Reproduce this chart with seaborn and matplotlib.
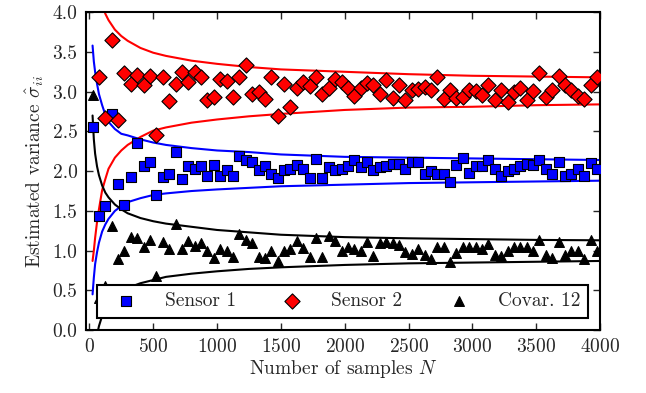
"""
plot.py
Estimated variances of two sensors and their covariance against the number
of samples, with confidence bounds.
"""

import matplotlib
matplotlib.use("Agg")

import matplotlib.pyplot as plt
import seaborn as sns

# sample sizes where the estimates were taken
N_SAMPLES = list(range(25, 4000, 50))

SENSOR_1 = [
    2.56, 1.44, 1.56, 2.72, 1.84, 1.58, 1.93, 2.36, 2.06, 2.11,
    1.70, 1.93, 1.97, 2.24, 1.90, 2.07, 2.03, 2.07, 1.94, 2.08,
    1.94, 2.01, 1.94, 2.19, 2.14, 2.11, 2.01, 2.07, 1.97, 1.92,
    2.01, 2.03, 2.08, 2.03, 1.92, 2.15, 1.92, 2.05, 2.01, 2.03,
    2.07, 2.14, 2.05, 2.12, 2.01, 2.05, 2.07, 2.09, 2.09, 2.03,
    2.12, 2.11, 1.96, 2.00, 1.97, 1.97, 1.86, 2.08, 2.17, 1.98,
    2.07, 2.06, 2.14, 2.03, 1.94, 2.00, 2.03, 2.07, 2.09, 2.08,
    2.14, 2.03, 1.97, 2.11, 1.94, 1.96, 2.03, 1.94, 2.10, 2.03,
]
SENSOR_2 = [
    4.30, 3.18, 2.67, 3.65, 2.64, 3.23, 3.10, 3.21, 3.09, 3.20,
    2.45, 3.18, 2.88, 3.10, 3.25, 3.12, 3.25, 3.19, 2.89, 2.93,
    3.16, 3.14, 2.93, 3.18, 3.33, 2.97, 3.00, 2.91, 3.18, 2.69,
    3.10, 2.81, 3.04, 3.12, 3.07, 3.18, 2.97, 3.05, 3.16, 3.12,
    3.04, 2.95, 3.04, 3.11, 3.08, 2.97, 3.15, 2.92, 3.08, 2.90,
    3.02, 3.03, 3.06, 3.02, 3.18, 2.91, 3.02, 2.92, 2.93, 3.02,
    3.01, 2.96, 3.09, 2.89, 3.02, 2.87, 2.99, 3.04, 2.90, 3.01,
    3.23, 2.93, 3.02, 3.20, 3.08, 3.02, 2.95, 2.91, 3.08, 3.18,
]
COVAR_12 = [
    2.96, 0.40, 0.55, 1.31, 0.89, 1.00, 1.17, 1.16, 1.04, 1.13,
    0.68, 1.11, 1.02, 1.34, 1.02, 1.12, 1.06, 1.09, 0.99, 0.91,
    1.02, 0.99, 0.92, 1.21, 1.13, 1.10, 0.92, 0.91, 1.00, 0.87,
    0.99, 1.02, 1.12, 1.03, 0.92, 1.16, 0.92, 1.18, 1.12, 0.99,
    1.05, 1.02, 1.00, 1.11, 0.93, 1.10, 1.11, 1.10, 1.07, 0.98,
    0.96, 1.02, 0.94, 0.89, 1.04, 1.05, 0.86, 0.97, 1.05, 1.04,
    1.05, 1.02, 1.08, 0.94, 0.93, 0.99, 1.04, 1.05, 1.04, 1.00,
    1.13, 0.95, 0.91, 1.11, 0.95, 1.00, 0.99, 0.89, 1.13, 1.00,
]

N_BOUND = [25, 35, 45, 60, 75, 100, 125, 150, 200, 250, 300, 400,
           500, 600, 800, 1000, 1250, 1500, 2000, 2500, 3000, 3500, 4000]
S2_UPPER = [5.20, 4.86, 4.64, 4.42, 4.27, 4.10, 3.98, 3.90, 3.78, 3.70, 3.64, 3.55,
            3.49, 3.45, 3.39, 3.35, 3.31, 3.28, 3.25, 3.22, 3.20, 3.19, 3.18]
S2_LOWER = [0.87, 1.00, 1.16, 1.36, 1.52, 1.76, 1.90, 2.03, 2.17, 2.26, 2.33, 2.43,
            2.51, 2.55, 2.61, 2.65, 2.69, 2.72, 2.77, 2.80, 2.81, 2.83, 2.84]
S1_UPPER = [3.58, 3.38, 3.25, 3.10, 2.97, 2.83, 2.71, 2.62, 2.53, 2.47, 2.45, 2.40,
            2.36, 2.33, 2.29, 2.26, 2.24, 2.21, 2.18, 2.17, 2.16, 2.15, 2.14]
S1_LOWER = [0.45, 0.66, 0.83, 0.98, 1.10, 1.24, 1.33, 1.40, 1.50, 1.56, 1.61, 1.66,
            1.70, 1.72, 1.75, 1.77, 1.79, 1.81, 1.83, 1.85, 1.86, 1.87, 1.88]
C12_UPPER = [2.70, 2.40, 2.22, 2.06, 1.95, 1.82, 1.73, 1.67, 1.58, 1.52, 1.47, 1.41,
             1.37, 1.34, 1.30, 1.26, 1.23, 1.20, 1.17, 1.155, 1.145, 1.135, 1.13]
C12_LOWER = [-0.64, -0.39, -0.22, -0.06, 0.05, 0.18, 0.27, 0.33, 0.42, 0.48, 0.53, 0.59,
             0.63, 0.67, 0.71, 0.74, 0.77, 0.79, 0.82, 0.84, 0.85, 0.86, 0.87]

sns.set_style("ticks")
plt.rcParams["font.family"] = "serif"
plt.rcParams["font.serif"] = ["cmr10"]
plt.rcParams["mathtext.fontset"] = "cm"
plt.rcParams["axes.formatter.use_mathtext"] = True
plt.rcParams["axes.unicode_minus"] = False

FS = 14

fig = plt.figure(figsize=(6.46, 3.93), dpi=100)
ax = fig.add_axes([0.133, 0.160, 0.796, 0.809])

for upper, lower, color in [(S2_UPPER, S2_LOWER, "red"),
                            (S1_UPPER, S1_LOWER, "blue"),
                            (C12_UPPER, C12_LOWER, "black")]:
    for bound in (upper, lower):
        sns.lineplot(x=N_BOUND, y=bound, color=color, linewidth=1.5,
                     estimator=None, sort=False, ax=ax, zorder=2)

sns.scatterplot(x=N_SAMPLES, y=SENSOR_1, marker="s", color="blue", s=48,
                edgecolor="black", linewidth=0.8, label="Sensor 1", ax=ax, zorder=3)
sns.scatterplot(x=N_SAMPLES, y=SENSOR_2, marker="D", color="red", s=60,
                edgecolor="black", linewidth=0.8, label="Sensor 2", ax=ax, zorder=3)
sns.scatterplot(x=N_SAMPLES, y=COVAR_12, marker="^", color="black", s=50,
                edgecolor="black", linewidth=0.8, label="Covar. 12", ax=ax, zorder=3)

ax.set_xlim(-27, 4000)
ax.set_ylim(0, 4)
ax.set_xticks(range(0, 4001, 500))
ax.set_yticks([0, 0.5, 1.0, 1.5, 2.0, 2.5, 3.0, 3.5, 4.0])
ax.set_yticklabels(["0.0", "0.5", "1.0", "1.5", "2.0", "2.5", "3.0", "3.5", "4.0"])
ax.tick_params(direction="in", length=5, width=1, top=True, right=True,
               labelsize=FS, pad=6)
for spine in ax.spines.values():
    spine.set_linewidth(1.5)
    spine.set_color("black")

ax.set_xlabel(r"Number of samples $N$", fontsize=FS, labelpad=1)
ax.set_ylabel(r"Estimated variance $\hat{\sigma}_{ii}$", fontsize=FS, labelpad=5)

leg = ax.legend(loc="lower left", bbox_to_anchor=(0.021, 0.038, 0.955, 0.1),
                mode="expand", ncol=3, fancybox=False, framealpha=1,
                edgecolor="black", fontsize=FS, handlelength=2.2,
                handletextpad=0.9, borderpad=0.4, borderaxespad=0,
                scatterpoints=1)
leg.get_frame().set_linewidth(1.5)

fig.savefig("out.png", dpi=100)
plt.close(fig)
